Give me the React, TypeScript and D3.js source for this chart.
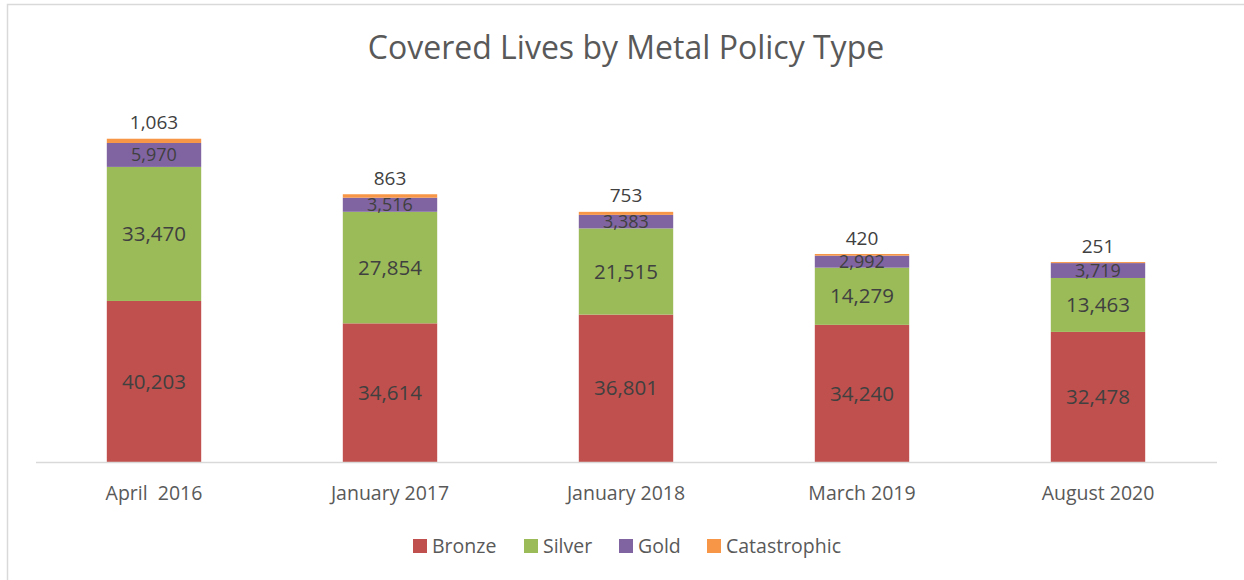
import { useEffect, useRef } from 'react'
import * as d3 from 'd3'

const categories = ['April  2016', 'January 2017', 'January 2018', 'March 2019', 'August 2020']
const seriesNames = ['Bronze', 'Silver', 'Gold', 'Catastrophic']
const bronze = [40203, 34614, 36801, 34240, 32478]
const silver = [33470, 27854, 21515, 14279, 13463]
const gold = [5970, 3516, 3383, 2992, 3719]
const catastrophic = [1063, 863, 753, 420, 251]
const colors = ['#C0504D', '#9BBB59', '#8064A2', '#F79646']

const W = 1244
const H = 580
const FONT = '"Open Sans", "Liberation Sans", sans-serif'

export default function App() {
  const ref = useRef<SVGSVGElement>(null)

  useEffect(() => {
    if (!ref.current) return
    const svg = d3.select(ref.current)
    svg.selectAll('*').remove()

    const rows = categories.map((c, i) => ({
      cat: c,
      Bronze: bronze[i],
      Silver: silver[i],
      Gold: gold[i],
      Catastrophic: catastrophic[i],
    }))

    const stacked = d3.stack<any>().keys(seriesNames)(rows)

    const x = d3.scaleBand().domain(categories).range([36, 1216]).paddingInner(0.6).paddingOuter(0.3)
    const y = d3.scaleLinear().domain([0, 90000]).range([462, 101.5])

    // cadre du graphique
    svg.append('rect')
      .attr('x', 7.5).attr('y', 4.5)
      .attr('width', W).attr('height', H)
      .attr('fill', 'white')
      .attr('stroke', '#d9d9d9').attr('stroke-width', 1.5)

    // titre
    svg.append('text')
      .attr('x', 626).attr('y', 59)
      .attr('text-anchor', 'middle')
      .attr('fill', '#595959')
      .style('font-family', FONT)
      .style('font-size', '32px')
      .text('Covered Lives by Metal Policy Type')

    // barres empilées
    const layers = svg.selectAll('.layer')
      .data(stacked)
      .enter()
      .append('g')
      .attr('class', 'layer')
      .attr('fill', (_, i) => colors[i])

    layers.selectAll('rect')
      .data(d => d)
      .enter()
      .append('rect')
      .attr('x', (d: any) => x(d.data.cat)!)
      .attr('y', d => y(d[1]))
      .attr('width', x.bandwidth())
      .attr('height', d => y(d[0]) - y(d[1]))

    // ligne d'axe
    svg.append('line')
      .attr('x1', 36).attr('x2', 1217)
      .attr('y1', 462.5).attr('y2', 462.5)
      .attr('stroke', '#d9d9d9').attr('stroke-width', 1.5)

    // libellés des catégories
    svg.selectAll('.cat-label')
      .data(categories)
      .enter()
      .append('text')
      .attr('class', 'cat-label')
      .attr('x', d => x(d)! + x.bandwidth() / 2)
      .attr('y', 500)
      .attr('text-anchor', 'middle')
      .attr('fill', '#595959')
      .style('font-family', FONT)
      .style('font-size', '19.5px')
      .style('white-space', 'pre')
      .text(d => d)

    // étiquettes de données
    stacked.forEach((layer, li) => {
      svg.selectAll(`.lbl-${li}`)
        .data(layer)
        .enter()
        .append('text')
        .attr('class', `lbl-${li}`)
        .attr('x', (d: any) => x(d.data.cat)! + x.bandwidth() / 2)
        .attr('y', d => li === 3 ? y(d[1]) - 16 : (y(d[0]) + y(d[1])) / 2)
        .attr('dy', '0.35em')
        .attr('text-anchor', 'middle')
        .attr('fill', '#404040')
        .style('font-family', FONT)
        .style('font-size', li === 2 ? '18px' : li === 3 ? '19px' : '20.5px')
        .text(d => d3.format(',')(d[1] - d[0]))
    })

    // légende
    const legendX = [413, 524, 619, 707]
    const legend = svg.append('g')
    seriesNames.forEach((name, i) => {
      legend.append('rect')
        .attr('x', legendX[i]).attr('y', 539)
        .attr('width', 14).attr('height', 14)
        .attr('fill', colors[i])
      legend.append('text')
        .attr('x', legendX[i] + 19).attr('y', 546)
        .attr('dy', '0.35em')
        .attr('fill', '#595959')
        .style('font-family', FONT)
        .style('font-size', '19.5px')
        .text(name)
    })
  }, [])

  return (
    <svg
      ref={ref}
      width={W}
      height={H}
      style={{ position: 'absolute', left: 0, top: 0, background: 'white' }}
    />
  )
}
